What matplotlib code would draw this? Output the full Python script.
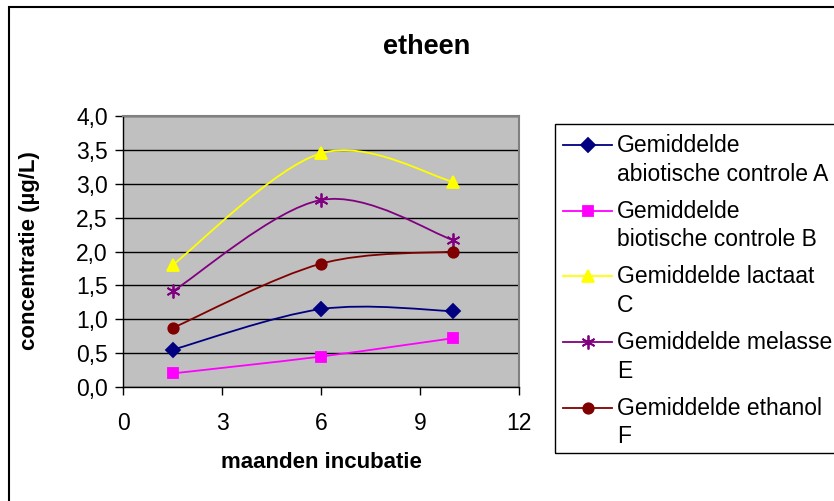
import numpy as np
import matplotlib
matplotlib.use('Agg')
import matplotlib.pyplot as plt
from matplotlib.path import Path
from matplotlib.patches import PathPatch, Rectangle
from matplotlib.lines import Line2D
from matplotlib.ticker import FuncFormatter

plt.rcParams['font.family'] = ['Liberation Sans', 'DejaVu Sans']

# gemeten concentraties etheen (µg/L) na 1,5 - 6 - 10 maanden
maanden = [1.5, 6, 10]
abiotisch_A = [0.55, 1.15, 1.12]
biotisch_B = [0.20, 0.45, 0.72]
lactaat_C = [1.80, 3.45, 3.03]
melasse_E = [1.41, 2.76, 2.17]
ethanol_F = [0.87, 1.82, 2.00]

labels = [('Gemiddelde', 'abiotische controle A'),
          ('Gemiddelde', 'biotische controle B'),
          ('Gemiddelde lactaat', 'C'),
          ('Gemiddelde melasse', 'E'),
          ('Gemiddelde ethanol', 'F')]
reeksen = [abiotisch_A, biotisch_B, lactaat_C, melasse_E, ethanol_F]
kleuren = ['#000080', '#FF00FF', '#FFFF00', '#800080', '#800000']
markers = ['D', 's', '^', (6, 2, 0), 'o']
msizes = [7, 7, 9, 10, 7.5]

W, H = 834, 501


def fx(px):
    return px / W


def fy(py):
    return 1 - py / H


def smooth_path(xs, ys):
    # Bezier-curve door de punten (zoals een vloeiende lijn in Excel)
    pts = np.column_stack([xs, ys]).astype(float)
    ext = np.vstack([pts[0], pts, pts[-1]])
    verts = [pts[0]]
    codes = [Path.MOVETO]
    for i in range(1, len(ext) - 2):
        p0, p1, p2, p3 = ext[i - 1], ext[i], ext[i + 1], ext[i + 2]
        c1 = p1 + (p2 - p0) / 6
        c2 = p2 - (p3 - p1) / 6
        verts += [c1, c2, p2]
        codes += [Path.CURVE4] * 3
    return Path(verts, codes)


fig = plt.figure(figsize=(W / 100, H / 100), dpi=100)

# buitenrand van de grafiek
fig.patches.append(Rectangle((fx(9), fy(H + 20)), 1.2, fy(7) - fy(H + 20),
                             transform=fig.transFigure, fill=False,
                             edgecolor='black', linewidth=1.5))

ax = fig.add_axes([fx(123), fy(387), fx(519) - fx(123), fy(116) - fy(387)])
ax.set_facecolor('#C0C0C0')

for ys, kleur, m, ms in zip(reeksen, kleuren, markers, msizes):
    ax.add_patch(PathPatch(smooth_path(maanden, ys), fill=False,
                           edgecolor=kleur, linewidth=1.3, zorder=3))
    ax.plot(maanden, ys, linestyle='none', marker=m, markersize=ms,
            color=kleur, markeredgecolor=kleur, markeredgewidth=1.3, zorder=4)

ax.set_xlim(0, 12)
ax.set_ylim(0, 4)
ax.set_xticks([0, 3, 6, 9, 12])
ax.set_yticks(np.arange(0, 4.01, 0.5))
ax.yaxis.set_major_formatter(FuncFormatter(lambda v, p: f'{v:.1f}'.replace('.', ',')))
ax.grid(axis='y', color='black', linewidth=1)
ax.set_axisbelow(True)
for s in ['top', 'right']:
    ax.spines[s].set_color('#808080')
    ax.spines[s].set_linewidth(1.5)
for s in ['left', 'bottom']:
    ax.spines[s].set_color('black')
    ax.spines[s].set_linewidth(1)
ax.tick_params(axis='y', direction='out', length=6, width=1, labelsize=16.5, pad=5)
ax.tick_params(axis='x', direction='out', length=6, width=1, labelsize=16.5, pad=12)

fig.text(fx(427), fy(47), 'etheen', ha='center', va='center',
         fontsize=19.5, fontweight='bold')
fig.text(fx(321), fy(462), 'maanden incubatie', ha='center', va='center',
         fontsize=16, fontweight='bold')
fig.text(fx(30), fy(251), 'concentratie (µg/L)', ha='center', va='center',
         rotation=90, fontsize=16, fontweight='bold')

# legenda
fig.patches.append(Rectangle((fx(555), fy(453)), 1, fy(124) - fy(453),
                             transform=fig.transFigure, fill=False,
                             edgecolor='black', linewidth=1))
for i, ((r1, r2), kleur, m, ms) in enumerate(zip(labels, kleuren, markers, msizes)):
    base = 152 + i * 65.7
    ly = fy(base - 7)
    fig.add_artist(Line2D([fx(563), fx(587.5), fx(612)], [ly, ly, ly],
                          transform=fig.transFigure, color=kleur, linewidth=1.3,
                          marker=m, markevery=[1], markersize=ms,
                          markeredgewidth=1.3))
    fig.text(fx(617), fy(base), r1, ha='left', va='baseline', fontsize=16.5)
    fig.text(fx(617), fy(base + 28.5), r2, ha='left', va='baseline', fontsize=16.5)

fig.savefig('out.png', dpi=100)
